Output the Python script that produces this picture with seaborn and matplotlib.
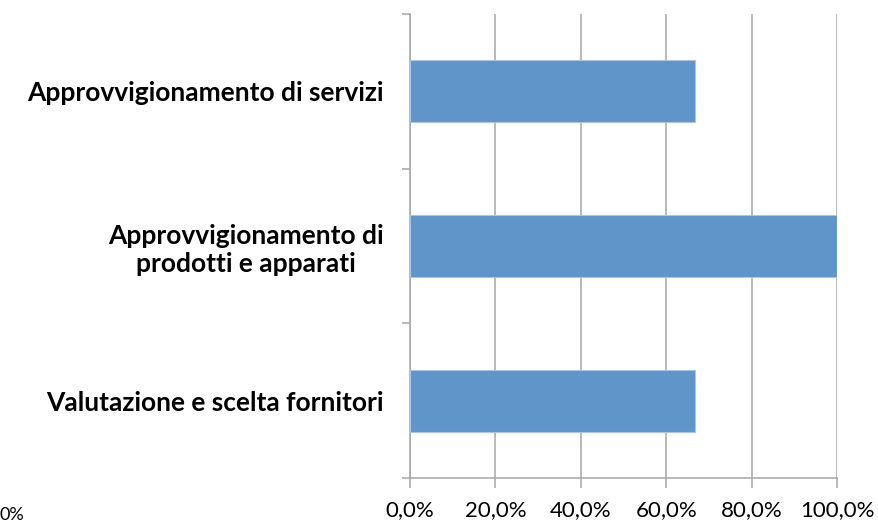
import matplotlib
matplotlib.use('Agg')
import matplotlib.pyplot as plt
import matplotlib.ticker as mticker
import seaborn as sns
import pandas as pd

# Data
categories = [
    'Approvvigionamento di servizi',
    'Approvvigionamento di\nprodotti e apparati',
    'Valutazione e scelta fornitori',
]
values = [66.7, 100.0, 66.7]
x_ticks = [0, 20, 40, 60, 80, 100]

df = pd.DataFrame({'categoria': categories, 'valore': values})

sns.set_theme(style='white')
plt.rcParams['font.family'] = ['Lato', 'DejaVu Sans']

bar_color = '#5F95C8'
grid_color = '#A6A6A6'

fig = plt.figure(figsize=(8.79, 5.25), dpi=100)
ax = fig.add_axes([0.4664, 0.0895, 0.4858, 0.8838])

sns.barplot(data=df, x='valore', y='categoria', orient='h', color=bar_color,
            saturation=1, width=0.4, edgecolor='#A9C4E4', linewidth=0.8,
            ax=ax, zorder=3)

ax.set_xlim(0, 100)
ax.set_ylim(2.5, -0.5)
ax.set_xticks(x_ticks)
ax.xaxis.set_major_formatter(mticker.FuncFormatter(lambda v, p: f'{v:.1f}%'.replace('.', ',')))
ax.grid(axis='x', color=grid_color, linewidth=1.1, zorder=0)
ax.set_axisbelow(True)

# category boundaries as y ticks
ax.set_yticks([-0.5, 0.5, 1.5, 2.5], minor=True)
ax.tick_params(axis='y', which='major', length=0, pad=19, labelsize=19)
ax.tick_params(axis='y', which='minor', length=6, width=1.1, color=grid_color, left=True)
ax.tick_params(axis='x', which='major', length=7, width=1.1, color=grid_color,
               bottom=True, pad=9, labelsize=16)
for lab in ax.get_yticklabels():
    lab.set_fontweight('bold')
    lab.set_multialignment('center')
    lab.set_color('black')
for lab in ax.get_xticklabels():
    lab.set_color('black')

ax.set_xlabel('')
ax.set_ylabel('')
for side in ['top', 'right']:
    ax.spines[side].set_visible(False)
for side in ['left', 'bottom']:
    ax.spines[side].set_color(grid_color)
    ax.spines[side].set_linewidth(1.1)

# partly visible label at the lower-left edge of the original picture
fig.text(0.0, 0.003, '0%', fontsize=13, va='bottom', ha='left', color='black')

plt.savefig('out.png', dpi=100)
